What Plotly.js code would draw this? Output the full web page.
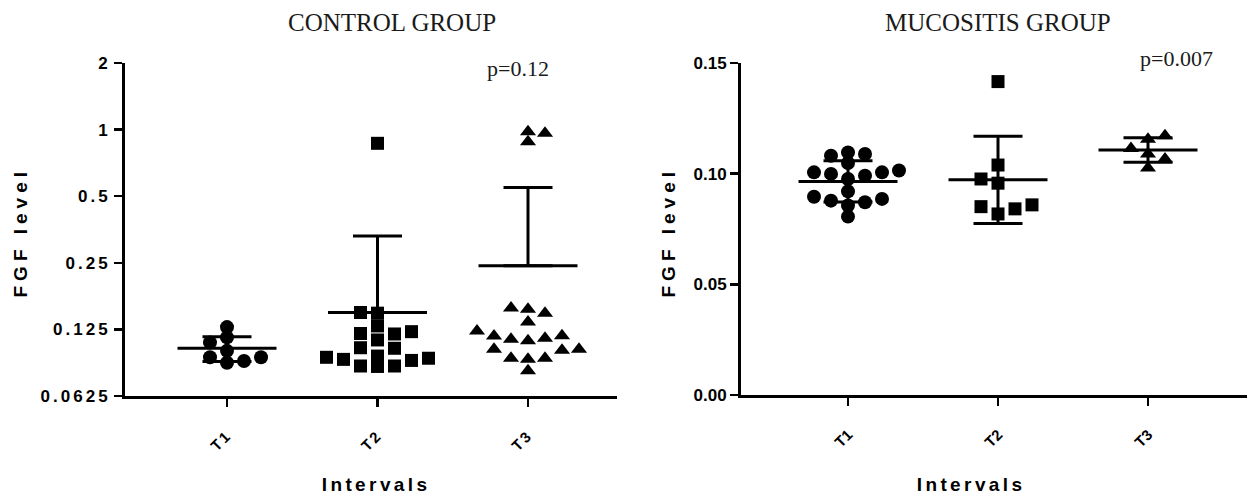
<!DOCTYPE html>
<html><head><meta charset="utf-8">
<script src="https://cdn.plot.ly/plotly-3.0.1.min.js"></script>
<style>
html,body{margin:0;padding:0;background:#fff;}
#chart{width:1249px;height:499px;}
.js-plotly-plot .ytick text{letter-spacing:3px;}
.js-plotly-plot .xtick text{letter-spacing:2px;}
.js-plotly-plot .annotation[data-index="4"] text,
.js-plotly-plot .annotation[data-index="5"] text{letter-spacing:5px;}
.js-plotly-plot .annotation[data-index="6"] text,
.js-plotly-plot .annotation[data-index="7"] text{letter-spacing:3.4px;}
</style></head><body><div id="chart"></div>
<script>
// ---- data ----
const categories = ['T1', 'T2', 'T3'];

// Control group (log2 y axis)
const controlT1 = [0.128, 0.115, 0.100, 0.109, 0.0935, 0.0884, 0.0900, 0.0935];
const controlT2 = [0.867, 0.149, 0.148, 0.1296, 0.1221, 0.1192, 0.1198, 0.112, 0.1033, 0.1027,
                   0.0926, 0.0935, 0.0854, 0.085, 0.0854, 0.0947, 0.0915, 0.0905];
const controlT3 = [0.962, 0.882, 0.979, 0.154, 0.148, 0.156, 0.135, 0.117, 0.114, 0.111,
                   0.1016, 0.1005, 0.1016, 0.1128, 0.1166, 0.123, 0.0926, 0.0917, 0.0926, 0.0813];
const controlMean = [0.1027, 0.149, 0.2426];
const controlErrUp = [0.0131, 0.181, 0.305];
const controlErrDown = [0.0131, 0, 0];

// Mucositis group (linear y axis)
const mucositisT1 = [0.1096, 0.1081, 0.1089, 0.1048, 0.1006, 0.0999, 0.1014, 0.1006, 0.0976, 0.0991,
                     0.0886, 0.0871, 0.0920, 0.0878, 0.0856, 0.0896, 0.0806];
const mucositisT2 = [0.1416, 0.1039, 0.0976, 0.0957, 0.0851, 0.0818, 0.0841, 0.0859];
const mucositisT3 = [0.1171, 0.1156, 0.1114, 0.1089, 0.1066, 0.1026];
const mucositisMean = [0.0965, 0.0972, 0.1107];
const mucositisSD = [0.0093, 0.0197, 0.0055];

const controlTickVals = [0.0625, 0.125, 0.25, 0.5, 1, 2];
const controlTickText = ['0.0625', '0.125', '0.25', '0.5', '1', '2'];
const mucositisTickVals = [0, 0.05, 0.10, 0.15];
const mucositisTickText = ['0.00', '0.05', '0.10', '0.15'];

const titles = ['CONTROL GROUP', 'MUCOSITIS GROUP'];
const pValues = ['p=0.12', 'p=0.007'];
const yTitle = 'FGF level';
const xTitle = 'Intervals';

// ---- layout geometry (pixels) ----
const W = 1249, H = 499;
const P1 = {x0: 125, x1: 617, y0: 63, y1: 396, c0: 227, step: 150.5};
const P2 = {x0: 741, x1: 1247, y0: 63, y1: 395, c0: 848, step: 150};
const symbols = ['circle', 'square', 'triangle-up'];
const sizes = [14, 13, 14];
const DX = 17, DY = 10; // column-scatter spreading distances (px)

function swarmOffsets(values, toPx) {
  const idx = values.map((_, i) => i).sort((a, b) => values[a] - values[b]);
  const placed = []; const out = new Array(values.length); let flip = 1;
  idx.forEach(i => {
    const y = toPx(values[i]);
    let x = 0;
    for (let k = 0; k < 400; k++) {
      const m = Math.ceil(k / 2);
      const c = k === 0 ? 0 : (k % 2 ? flip * m : -flip * m);
      if (placed.every(p => Math.abs(p.x - c) >= DX || Math.abs(p.y - y) >= DY)) { x = c; break; }
    }
    if (x !== 0) flip = -flip;
    placed.push({x, y}); out[i] = x;
  });
  return out;
}

const lo1 = Math.log10(controlTickVals[0]), hi1 = Math.log10(controlTickVals[controlTickVals.length - 1]);
const toPx1 = v => (Math.log10(v) - lo1) / (hi1 - lo1) * (P1.y1 - P1.y0);
const toPx2 = v => v / 0.15 * (P2.y1 - P2.y0);

const traces = [];
function addGroup(groups, toPx, P, xa, ya, means, errUp, errDown) {
  groups.forEach((vals, i) => {
    const offs = swarmOffsets(vals, toPx);
    traces.push({
      type: 'scatter', mode: 'markers', xaxis: xa, yaxis: ya, showlegend: false,
      x: offs.map(o => i + o / P.step), y: vals,
      marker: {symbol: symbols[i], size: sizes[i], color: '#000', line: {width: 0}},
      hoverinfo: 'y'
    });
  });
  traces.push({
    type: 'scatter', mode: 'markers', xaxis: xa, yaxis: ya, showlegend: false,
    x: categories.map((_, i) => i), y: means,
    marker: {size: 1, opacity: 0, color: '#000'},
    error_x: {type: 'constant', value: 49.5 / P.step, width: 0, thickness: 3, color: '#000'},
    error_y: {type: 'data', symmetric: false, array: errUp, arrayminus: errDown, width: 24.5, thickness: 3, color: '#000'},
    hoverinfo: 'y'
  });
}
addGroup([controlT1, controlT2, controlT3], toPx1, P1, 'x', 'y', controlMean, controlErrUp, controlErrDown);
addGroup([mucositisT1, mucositisT2, mucositisT3], toPx2, P2, 'x2', 'y2', mucositisMean, mucositisSD, mucositisSD);

const tickFont = {family: 'Liberation Sans, Arial, sans-serif', size: 17, color: '#000', weight: 'bold'};
const xTickFont = {family: 'Liberation Sans, Arial, sans-serif', size: 15, color: '#000', weight: 'bold'};
function xAxis(P, anchor) {
  return {
    domain: [P.x0 / W, P.x1 / W], anchor: anchor,
    range: [(P.x0 - P.c0) / P.step, (P.x1 - P.c0) / P.step],
    tickmode: 'array', tickvals: categories.map((_, i) => i), ticktext: categories,
    tickangle: -45, ticks: 'outside', ticklen: 8, tickwidth: 2.5, tickcolor: '#000',
    ticklabelstandoff: 14,
    showline: true, linewidth: 3, linecolor: '#000', showgrid: false, zeroline: false,
    tickfont: xTickFont, fixedrange: true
  };
}
function yAxis(P, anchor, extra) {
  return Object.assign({
    domain: [1 - P.y1 / H, 1 - P.y0 / H], anchor: anchor,
    ticks: 'outside', ticklen: 8, tickwidth: 2.5, tickcolor: '#000',
    showline: true, linewidth: 3, linecolor: '#000', showgrid: false, zeroline: false,
    tickfont: tickFont, fixedrange: true, tickmode: 'array'
  }, extra);
}

const ann = (text, px, py, font, opts) => Object.assign({
  text: text, xref: 'paper', yref: 'paper', x: px / W, y: 1 - py / H,
  xanchor: 'center', yanchor: 'middle', showarrow: false, font: font
}, opts || {});
const serifTitle = {family: 'Liberation Serif, Times New Roman, serif', size: 25, color: '#1a1a1a'};
const serifP = {family: 'Liberation Serif, Times New Roman, serif', size: 22, color: '#1a1a1a'};
const axTitleFont = {family: 'Liberation Sans, Arial, sans-serif', size: 19, color: '#000', weight: 'bold'};

const layout = {
  width: W, height: H, margin: {l: 0, r: 0, t: 0, b: 0},
  paper_bgcolor: '#fff', plot_bgcolor: '#fff', showlegend: false,
  xaxis: xAxis(P1, 'y'),
  yaxis: yAxis(P1, 'x', {type: 'log', range: [lo1, hi1], tickvals: controlTickVals, ticktext: controlTickText}),
  xaxis2: xAxis(P2, 'y2'),
  yaxis2: yAxis(P2, 'x2', {range: [0, 0.15], tickvals: mucositisTickVals, ticktext: mucositisTickText}),
  annotations: [
    ann(titles[0], 392, 22, serifTitle),
    ann(titles[1], 998, 22, serifTitle),
    ann(pValues[0], 518, 68, serifP),
    ann(pValues[1], 1176, 58, serifP),
    ann(yTitle, 20, 232, axTitleFont, {textangle: -90}),
    ann(yTitle, 668, 232, axTitleFont, {textangle: -90}),
    ann(xTitle, 376, 484, axTitleFont),
    ann(xTitle, 971, 484, axTitleFont)
  ]
};

Plotly.newPlot('chart', traces, layout, {staticPlot: true, displayModeBar: false});
</script></body></html>
